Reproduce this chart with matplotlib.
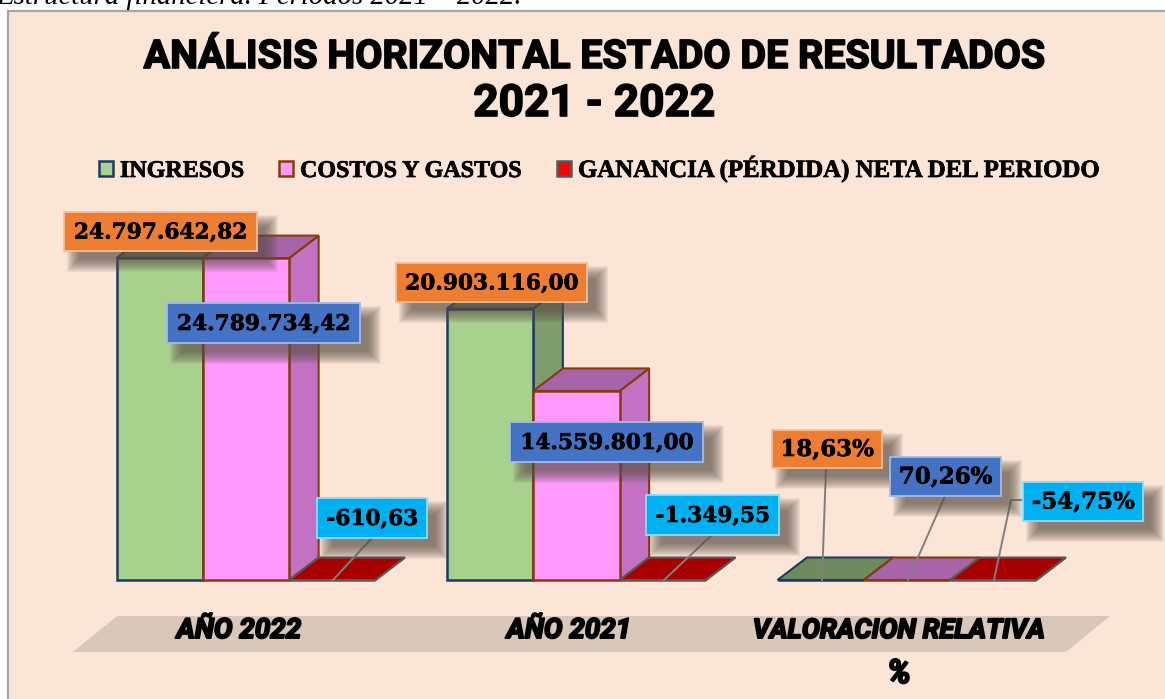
import matplotlib
matplotlib.use("Agg")
import matplotlib.pyplot as plt
import matplotlib.patheffects as pe
from matplotlib.patches import Polygon, Rectangle

W, H = 1165, 699

categories = ["AÑO 2022", "AÑO 2021", "VALORACION RELATIVA\n%"]
series_names = ["INGRESOS", "COSTOS Y GASTOS", "GANANCIA (PÉRDIDA) NETA DEL PERIODO"]
ingresos = [24797642.82, 20903116.00, 18.63]
costos = [24789734.42, 14559801.00, 70.26]
ganancia = [-610.63, -1349.55, -54.75]
ingresos_txt = ["24.797.642,82", "20.903.116,00", "18,63%"]
costos_txt = ["24.789.734,42", "14.559.801,00", "70,26%"]
ganancia_txt = ["-610,63", "-1.349,55", "-54,75%"]

bg = "#fbe5d6"
front = ["#a9d18e", "#ff99ff", "#ff0000"]
top = ["#6f8a5d", "#a864a8", "#a80000"]
side = ["#7f9d6b", "#c372c3", "#a80000"]
edge = ["#203864", "#843c0c", "#595959"]
label_col = ["#ed7d31", "#4472c4", "#00b0f0"]
label_edge = ["#f7be95", "#a5bbe3", "#8fdcf8"]

fig = plt.figure(figsize=(W / 100, H / 100), dpi=100, facecolor="white")

# back: frame only, image pixels
back = fig.add_axes([0, 0, 1, 1], zorder=0)
back.set_xlim(0, W)
back.set_ylim(H, 0)
back.axis("off")
back.add_patch(Rectangle((8, 10.5), W + 20, H, fc=bg, ec="#a6a6a6", lw=1.6))

# value axes, same area but in category/value units
base_y = 580
unit_y = 322 / 24797642.82
unit_x = 330.5
ax = fig.add_axes([0, 0, 1, 1], zorder=1)
ax.set_xlim(-246 / unit_x, (W - 246) / unit_x)
ax.set_ylim(-(H - base_y) / unit_y, base_y / unit_y)
ax.axis("off")

bar_w = 86.3 / unit_x
dx = 29.5 / unit_x
dy = 22.5 / unit_y

# floor band under the category names
ax.add_patch(Polygon([(-173 / unit_x, -72 / unit_y), (820 / unit_x, -72 / unit_y),
                      (864 / unit_x, -36 / unit_y), (-129 / unit_x, -36 / unit_y)],
                     fc="#d9c7ba", ec="none"))

for s, vals in enumerate([ingresos, costos, ganancia]):
    for i, v in enumerate(vals):
        x0 = i + (s - 1.5) * bar_w
        h = max(v, 0)
        ax.add_patch(Polygon([(x0 + bar_w, 0), (x0 + bar_w + dx, dy), (x0 + bar_w + dx, h + dy), (x0 + bar_w, h)],
                             fc=side[s], ec=edge[s], lw=1.5, joinstyle="miter", zorder=2 + s))
        ax.add_patch(Polygon([(x0, h), (x0 + bar_w, h), (x0 + bar_w + dx, h + dy), (x0 + dx, h + dy)],
                             fc=top[s], ec=edge[s], lw=1.5, joinstyle="miter", zorder=2 + s))
    ax.bar([i + (s - 1) * bar_w for i in range(3)], [max(v, 0) for v in vals], width=bar_w,
           color=front[s], edgecolor=edge[s], linewidth=1.8, zorder=2.5 + s)

# px: texts and label boxes on top, image pixels
px = fig.add_axes([0, 0, 1, 1], zorder=2)
px.set_xlim(0, W)
px.set_ylim(H, 0)
px.axis("off")

heavy = [pe.withStroke(linewidth=1.2, foreground="black")]
px.text(593, 68, "ANÁLISIS HORIZONTAL ESTADO DE RESULTADOS", ha="center", va="baseline",
        family="Roboto", weight="bold", fontsize=28.4, color="black", path_effects=heavy)
px.text(594, 116, "2021 - 2022", ha="center", va="baseline",
        family="Roboto", weight="bold", fontsize=31.8, color="black", path_effects=heavy)
px.text(-4, 4, "Estructura financiera. Periodos 2021 – 2022.", ha="left", va="baseline",
        family="Liberation Serif", style="italic", fontsize=20.7, color="black")

# legend
legend_x = [99, 279, 557]
legend_size = [17.3, 17.3, 17.9]
for n, name in enumerate(series_names):
    px.add_patch(Rectangle((legend_x[n], 161), 14, 15, fc=front[n], ec=edge[n], lw=1.8))
    px.text(legend_x[n] + 21, 177, name, ha="left", va="baseline", family="Liberation Serif",
            weight="bold", fontsize=legend_size[n], color="black",
            path_effects=[pe.withStroke(linewidth=0.5, foreground="black")])

label_boxes = [
    [(64, 212, 193, 39), (396, 263, 191, 39), (772, 430, 110, 38)],
    [(167, 303, 193, 40), (510, 422, 193, 40), (890, 457, 111, 39)],
    [(317, 498, 110, 40), (646, 495, 133, 40), (1023, 482, 120, 39)],
]
label_txt = [ingresos_txt, costos_txt, ganancia_txt]
leaders = [
    [None, None, [(826, 468), (822, 580)]],
    [None, None, [(945, 496), (908, 580)]],
    [[(372, 538), (333, 580)], [(712, 535), (664, 580)], [(1023, 500), (1011, 500), (994, 580)]],
]

for s in range(3):
    for i in range(3):
        bx, by, bw, bh = label_boxes[s][i]
        z = 9 + s * 0.1 + i * 0.01
        if leaders[s][i]:
            xs, ys = zip(*leaders[s][i])
            px.plot(xs, ys, color="#7f7f7f", lw=1.4, zorder=8)
        # soft shadow from stacked transparent boxes
        for g in range(14):
            px.add_patch(Rectangle((bx + 3 + g, by + 3 + g), bw + 18 - 2 * g, bh + 18 - 2 * g,
                                   fc="#5e524b", ec="none", alpha=0.08, zorder=z))
        px.add_patch(Rectangle((bx, by), bw, bh, fc=label_col[s], ec=label_edge[s], lw=1.3, zorder=z + 0.001))
        px.text(bx + bw / 2, by + bh / 2 + 1, label_txt[s][i], ha="center", va="center",
                family="DejaVu Serif", weight="bold", fontsize=16.5 if i == 2 else 15.6, color="black",
                zorder=z + 0.002, path_effects=[pe.withStroke(linewidth=0.4, foreground="black")])

# category names
cat_x = [239, 569, 899]
cat_size = [20, 20, 19.5]
brush = [pe.withStroke(linewidth=1.4, foreground="black")]
for c, name in enumerate(categories):
    for k, part in enumerate(name.split("\n")):
        px.text(cat_x[c], 638 + k * 45, part, ha="center", va="baseline", family="Roboto",
                weight="bold", style="italic", fontsize=24 if k else cat_size[c], color="black", zorder=10,
                path_effects=brush)

fig.savefig("out.png", dpi=100, facecolor="white")
